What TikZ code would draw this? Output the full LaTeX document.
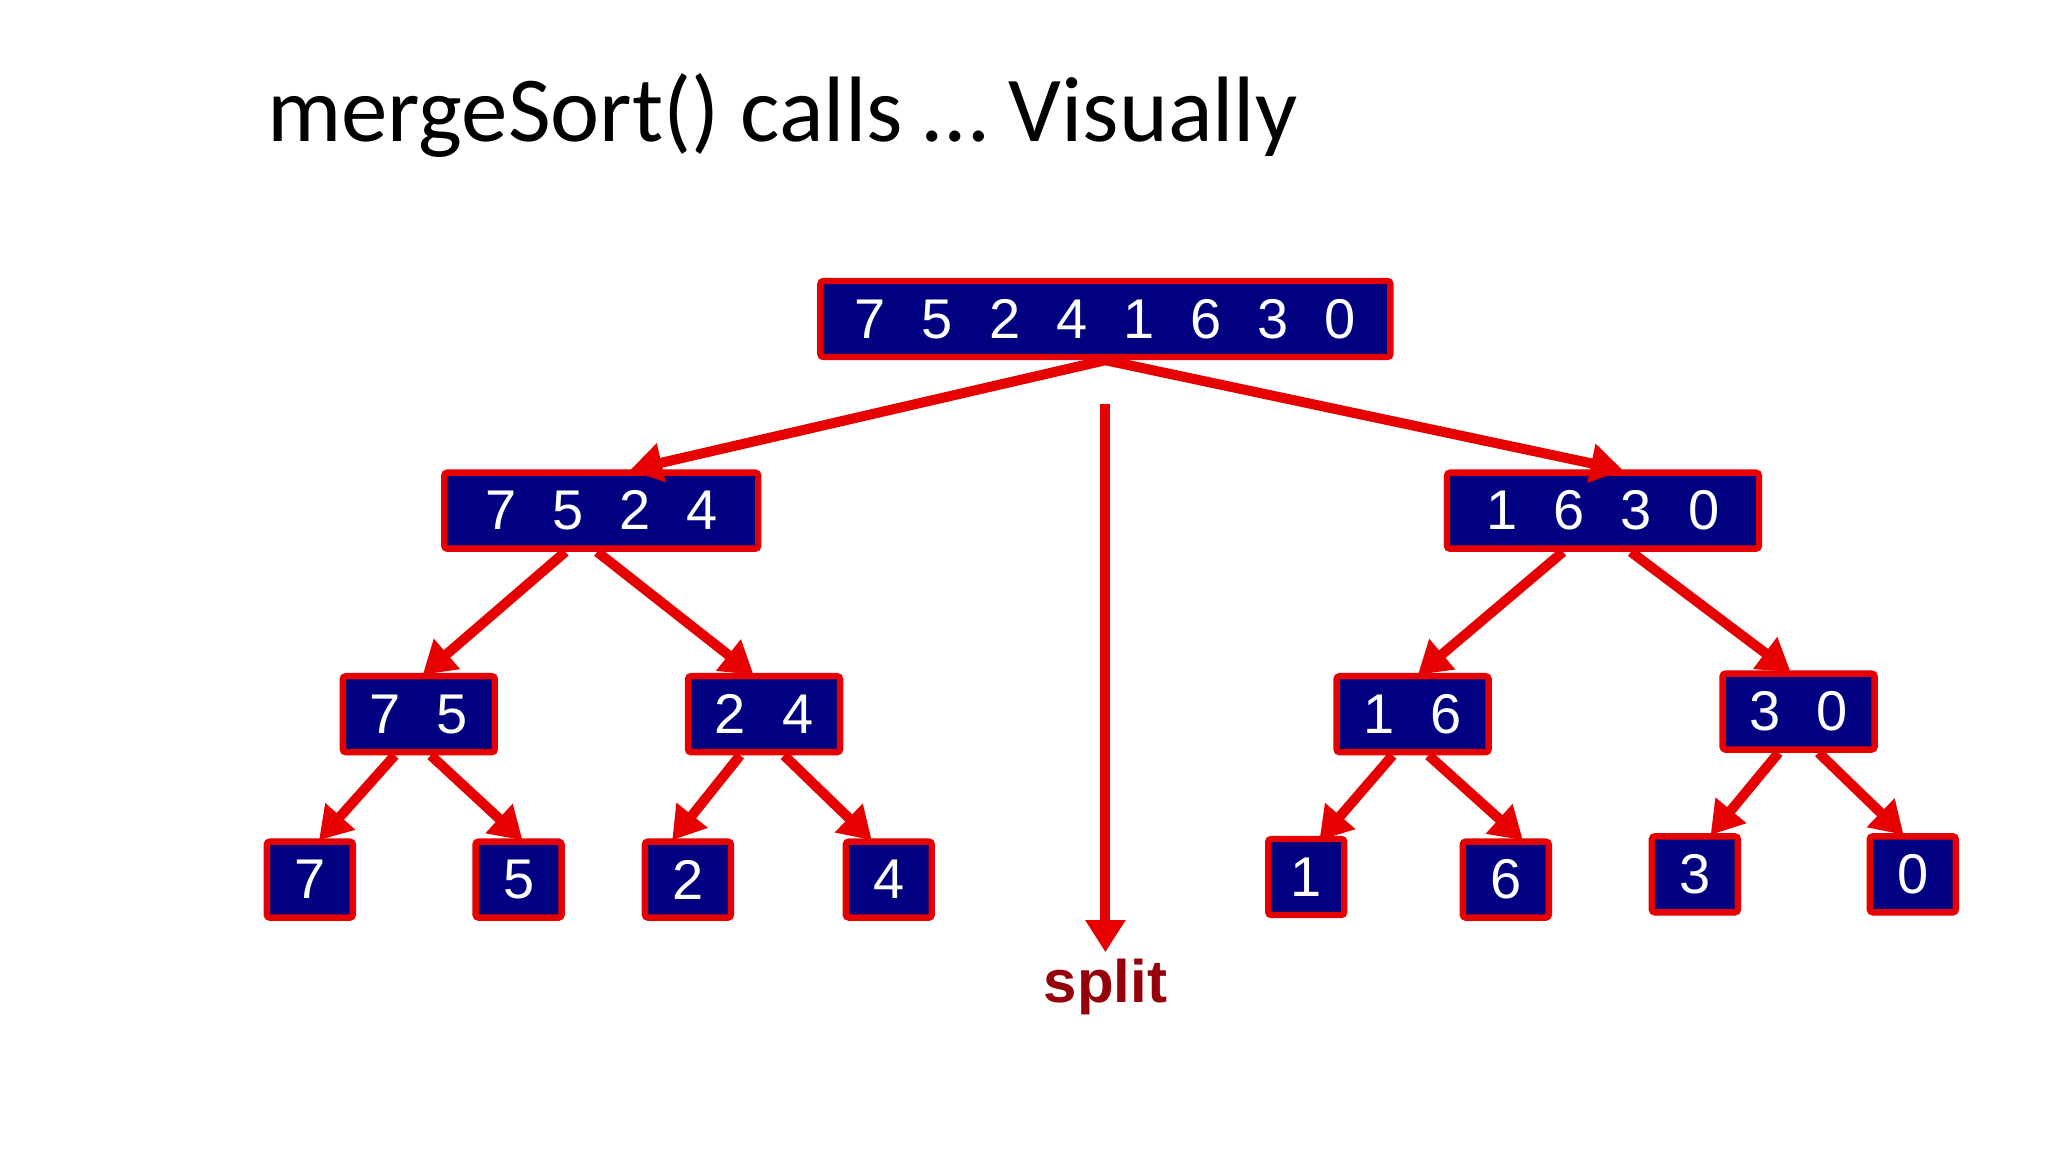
\documentclass[tikz,border=0pt]{standalone}
\usepackage{fontspec}
\setmainfont{Carlito}
\newfontfamily\digfont{Liberation Sans}
\usetikzlibrary{arrows.meta}
\definecolor{boxblue}{RGB}{0,0,128}
\definecolor{boxred}{RGB}{230,0,0}
\definecolor{splitred}{RGB}{150,0,10}
\tikzset{
  arr/.style={draw=boxred,line width=5pt,-{Triangle[length=16pt,width=19pt]}},
  arrbox/.style={rectangle,fill=boxblue,draw=boxred,line width=3.2pt,rounded corners=1.5pt,
     text=white,font=\digfont\fontsize{28}{28}\selectfont,minimum height=38pt,inner xsep=8pt,anchor=center},
}
\newcommand{\gp}{\hspace{18pt}}
\begin{document}
\begin{tikzpicture}[x=0.6565pt,y=-0.6565pt]
\useasboundingbox[fill=white] (0,0) rectangle (1560,877.5);
\node[anchor=west,font=\fontsize{46.5}{46.5}\selectfont] (title) at (198,88) {mergeSort() calls … Visually};
\node[arrbox,minimum width=285pt] (r) at (842,243) {7\gp5\gp2\gp4\gp1\gp6\gp3\gp0};
\node[arrbox,minimum width=157pt] (a) at (458,389) {7\gp5\gp2\gp4};
\node[arrbox,minimum width=156pt] (b) at (1221,389) {1\gp6\gp3\gp0};
\node[arrbox,minimum width=76pt] (a1) at (319,544) {7\gp5};
\node[arrbox,minimum width=76pt] (a2) at (582,544) {2\gp4};
\node[arrbox,minimum width=76pt] (b1) at (1076,544) {1\gp6};
\node[arrbox,minimum width=76pt] (b2) at (1370,542) {3\gp0};
\node[arrbox,minimum width=43pt] (n7) at (236,670) {7};
\node[arrbox,minimum width=43pt] (n5) at (395,670) {5};
\node[arrbox,minimum width=43pt] (n2) at (524,670) {2};
\node[arrbox,minimum width=43pt] (n4) at (677,670) {4};
\node[arrbox,minimum width=38pt] (n1) at (995,668) {1};
\node[arrbox,minimum width=43pt] (n6) at (1147,670) {6};
\node[arrbox,minimum width=43pt] (n3) at (1291,666) {3};
\node[arrbox,minimum width=43pt] (n0) at (1457,666) {0};
\coordinate (st) at (842,308);
\node[font=\digfont\bfseries\fontsize{30}{30}\selectfont,text=splitred] (split) at (842,752) {split};
\draw[arr] (r.south) -- (480,358);
\draw[arr] (r.south) -- (1236,358);
\draw[arr] ([xshift=-18pt]a.south) -- (322,514);
\draw[arr] ([xshift=-2pt]a.south) -- (574,514);
\draw[arr] ([xshift=-20pt]b.south) -- (1080,514);
\draw[arr] ([xshift=14pt]b.south) -- (1364,512);
\draw[arr] ([xshift=-12pt]a1.south) -- (243,640);
\draw[arr] ([xshift=6pt]a1.south) -- (398,640);
\draw[arr] ([xshift=-12pt]a2.south) -- (512,640);
\draw[arr] ([xshift=10pt]a2.south) -- (664,640);
\draw[arr] ([xshift=-10pt]b1.south) -- (1005,640);
\draw[arr] ([xshift=8pt]b1.south) -- (1160,640);
\draw[arr] ([xshift=-10pt]b2.south) -- (1303,636);
\draw[arr] ([xshift=10pt]b2.south) -- (1450,636);
\draw[arr] (st) -- (split.north);
\end{tikzpicture}
\end{document}
